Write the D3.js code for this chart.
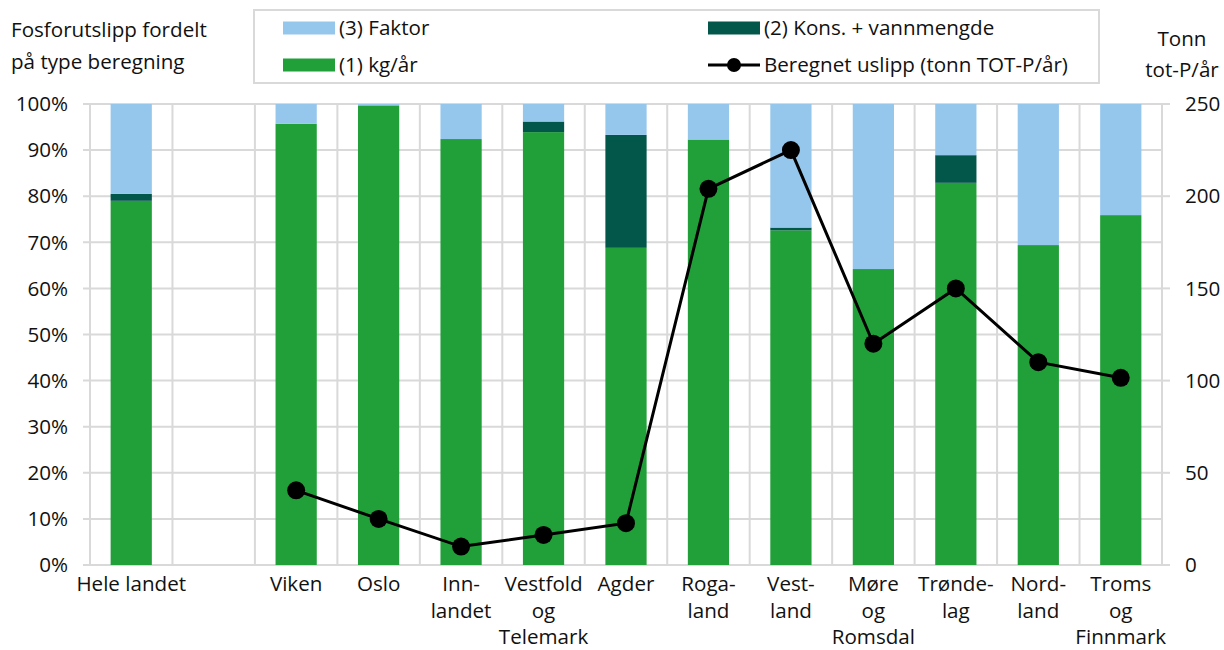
<!DOCTYPE html>
<html><head><meta charset="utf-8">
<script src="https://cdn.jsdelivr.net/npm/d3@7"></script>
<style>
html,body{margin:0;padding:0;background:#fff;}
svg{display:block;font-family:"Open Sans",sans-serif;}
</style></head>
<body><svg id="c" width="1224" height="650"></svg>
<script>
const categories = ["Hele landet", "", "Viken", "Oslo", "Inn-|landet", "Vestfold|og|Telemark", "Agder", "Roga-|land", "Vest-|land", "Møre|og|Romsdal", "Trønde-|lag", "Nord-|land", "Troms|og|Finnmark"];
const kgAar   = [79.0, 0, 95.7, 99.7, 92.4, 93.9, 68.8, 92.3, 72.6, 64.2, 82.9, 69.4, 75.9];
const kons    = [1.5, 0, 0, 0, 0, 2.3, 24.5, 0, 0.6, 0, 6.0, 0, 0];
const faktor  = [19.5, 0, 4.3, 0.3, 7.6, 3.8, 6.7, 7.7, 26.8, 35.8, 11.1, 30.6, 24.1];
const uslipp  = [null, null, 40.5, 25.0, 10.0, 16.3, 22.7, 204, 225, 120, 150, 110, 101.5];
const leftTicks = [0,10,20,30,40,50,60,70,80,90,100];
const rightTicks = [0,50,100,150,200,250];

const colors = {kg:"#21a039", kons:"#03564a", faktor:"#95c7ec"};
const FS = 20.6, TC = "#111";
const svg = d3.select("#c");
const L = 90, R = 1162, T = 104, B = 565;
const x = d3.scaleBand().domain(d3.range(categories.length)).range([L, R]).paddingInner(0.5).paddingOuter(0.25);
const xg = d3.scaleLinear().domain([0, categories.length]).range([L, R]);
const y = d3.scaleLinear().domain([0, 100]).range([B, T]);
const y2 = d3.scaleLinear().domain([0, 250]).range([B, T]);

// grid
const grid = svg.append("g").attr("stroke", "#d9d9d9").attr("stroke-width", 2);
leftTicks.forEach(t => grid.append("line").attr("x1", L-7).attr("x2", R).attr("y1", y(t)).attr("y2", y(t)));
d3.range(categories.length+1).forEach(i => grid.append("line").attr("x1", xg(i)).attr("x2", xg(i)).attr("y1", T).attr("y2", B));
rightTicks.forEach(t => grid.append("line").attr("x1", R).attr("x2", R+8).attr("y1", y2(t)).attr("y2", y2(t)));

// stacked bars
const rows = categories.map((c,i) => ({i, kg:kgAar[i], kons:kons[i], faktor:faktor[i]}));
const stack = d3.stack().keys(["kg","kons","faktor"])(rows);
svg.append("g").selectAll("g").data(stack).join("g").attr("fill", d => colors[d.key])
  .selectAll("rect").data(d => d).join("rect")
  .attr("x", d => x(d.data.i)).attr("width", x.bandwidth())
  .attr("y", d => y(d[1])).attr("height", d => Math.max(0, y(d[0]) - y(d[1])));

// line
const pts = uslipp.map((v,i) => ({i, v})).filter(d => d.v != null);
svg.append("path").datum(pts).attr("fill","none").attr("stroke","#000").attr("stroke-width",3)
  .attr("d", d3.line().x(d => x(d.i)+x.bandwidth()/2).y(d => y2(d.v)));
svg.append("g").selectAll("circle").data(pts).join("circle")
  .attr("cx", d => x(d.i)+x.bandwidth()/2).attr("cy", d => y2(d.v)).attr("r", 9).attr("fill","#000");

// axis labels
const txt = svg.append("g").attr("font-size", FS).attr("fill", TC);
leftTicks.forEach(t => txt.append("text").attr("x", 68).attr("y", y(t)).attr("dy", "0.35em").attr("text-anchor","end").text(t + "%"));
rightTicks.forEach(t => txt.append("text").attr("x", 1185).attr("y", y2(t)).attr("dy", "0.35em").attr("text-anchor","start").text(t));
categories.forEach((c,i) => {
  c.split("|").forEach((s,k) => {
    if (!s) return;
    txt.append("text").attr("x", x(i)+x.bandwidth()/2).attr("y", 591 + k*26.5).attr("text-anchor","middle").text(s);
  });
});
txt.append("text").attr("x", 11).attr("y", 37).text("Fosforutslipp fordelt");
txt.append("text").attr("x", 11).attr("y", 69).text("på type beregning");
txt.append("text").attr("x", 1182).attr("y", 46).attr("text-anchor","middle").text("Tonn");
txt.append("text").attr("x", 1182).attr("y", 77).attr("text-anchor","middle").text("tot-P/år");

// legend
const lg = svg.append("g");
lg.append("rect").attr("x", 254).attr("y", 10).attr("width", 845).attr("height", 73).attr("fill","#fff").attr("stroke","#d9d9d9").attr("stroke-width",2);
const items = [
  {type:"rect", color:colors.faktor, label:"(3) Faktor", x:283, y:28},
  {type:"rect", color:colors.kg, label:"(1) kg/år", x:283, y:65},
  {type:"rect", color:colors.kons, label:"(2) Kons. + vannmengde", x:708, y:28},
  {type:"line", color:"#000", label:"Beregnet uslipp (tonn TOT-P/år)", x:708, y:65}
];
items.forEach(it => {
  if (it.type === "rect") lg.append("rect").attr("x", it.x).attr("y", it.y-6.5).attr("width", 52).attr("height", 13).attr("fill", it.color);
  else {
    lg.append("line").attr("x1", it.x).attr("x2", it.x+52).attr("y1", it.y).attr("y2", it.y).attr("stroke","#000").attr("stroke-width",3);
    lg.append("circle").attr("cx", it.x+26).attr("cy", it.y).attr("r", 7).attr("fill","#000");
  }
  lg.append("text").attr("x", it.x+56).attr("y", it.y).attr("dy","0.35em").attr("font-size",FS).attr("fill",TC).text(it.label);
});
</script></body></html>
